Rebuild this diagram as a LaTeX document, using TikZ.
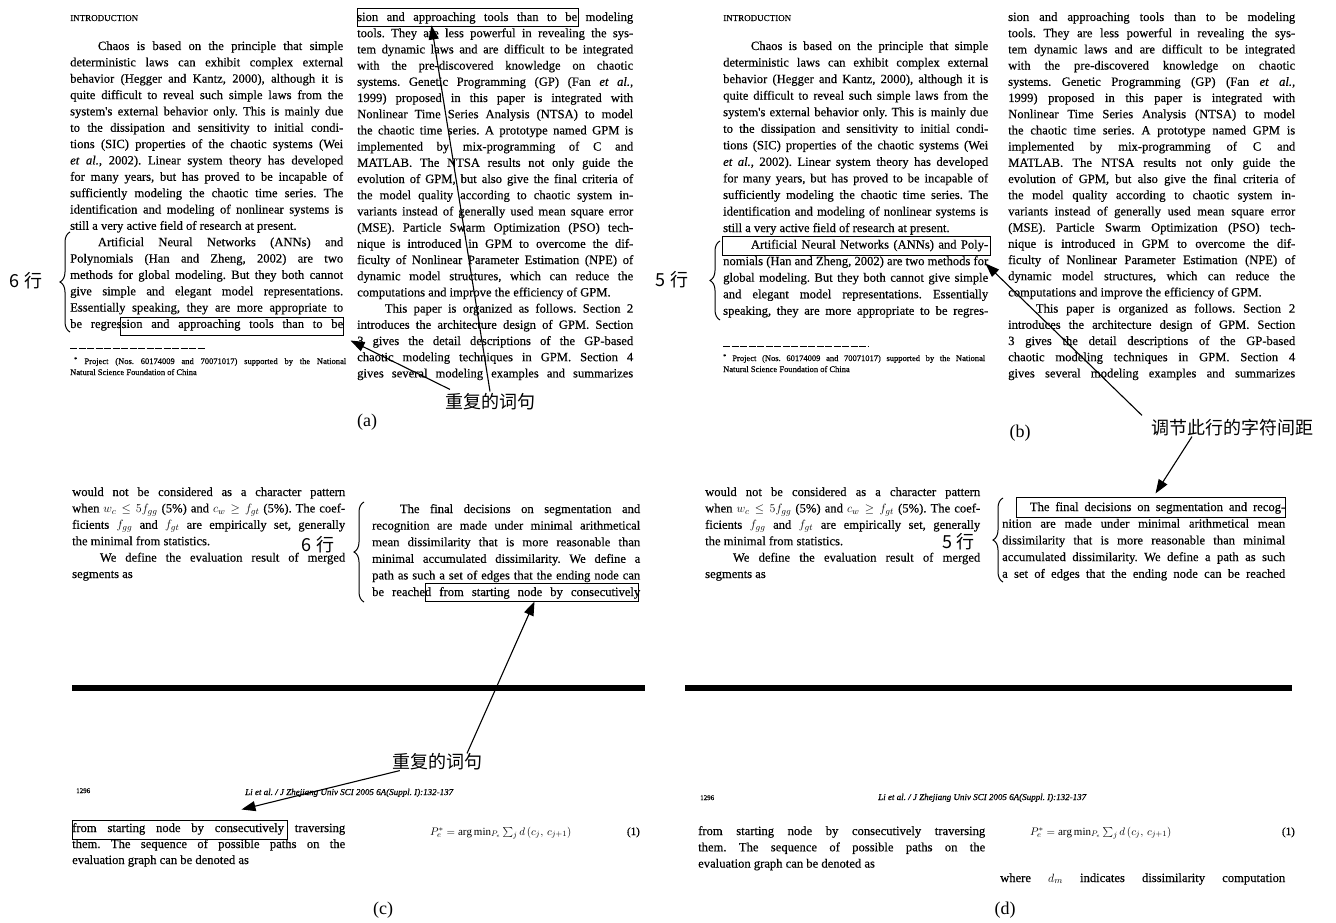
\documentclass[tikz,border=0pt]{standalone}
\usepackage{fontspec}
\setmainfont{Liberation Serif}
\newfontfamily\scanfont{Liberation Serif}[FakeBold=0.35]
\newfontfamily\cjk{Noto Sans CJK SC}
\usetikzlibrary{arrows.meta,decorations.pathreplacing,calc}
\newlength\colw
\newcommand\jline[1]{\makebox[\colw][s]{#1}}
\newcommand\lline[1]{#1}
\newcommand\txtblock[5]{\foreach \tx [count=\i] in {#5} {\node[tline] (#1\i) at (#2, {#3+3+#4*(\i-1)}) {\tx};}}
\frenchspacing
\begin{document}
\begin{tikzpicture}[x=1pt, y=-1pt,
  tline/.style={anchor=base west, inner sep=0pt, font=\scanfont\fontsize{12.6}{14}\selectfont},
  small/.style={anchor=base west, inner sep=0pt, font=\scanfont\fontsize{8.5}{10}\selectfont},
  hl/.style={draw, line width=1pt, inner sep=0pt},
  arr/.style={line width=1.1pt, -{Triangle[length=14pt,width=10pt]}},
  brc/.style={decorate, decoration={brace, amplitude=10pt}, line width=1pt},
  cjklbl/.style={font=\cjk\fontsize{18}{20}\selectfont, inner sep=0pt},
  panel/.style={font=\fontsize{18}{20}\selectfont, inner sep=0pt},
  bar/.style={line width=6.5pt}]
\useasboundingbox (0,0) rectangle (1336,923);
\fill[white] (0,0) rectangle (1336,923);

% ================= (a) =================
\node[small, font=\scanfont\fontsize{9}{10}\selectfont] (aIntro) at (70,21) {INTRODUCTION};
\setlength{\colw}{273pt}
\txtblock{aL}{70}{47}{16.35}{
{\jline{\hspace*{2.2em}Chaos is based on the principle that simple}},
{\jline{deterministic laws can exhibit complex external}},
{\jline{behavior (Hegger and Kantz, 2000), although it is}},
{\jline{quite difficult to reveal such simple laws from the}},
{\jline{system's external behavior only. This is mainly due}},
{\jline{to the dissipation and sensitivity to initial condi-}},
{\jline{tions (SIC) properties of the chaotic systems (Wei}},
{\jline{\textit{et al.}, 2002). Linear system theory has developed}},
{\jline{for many years, but has proved to be incapable of}},
{\jline{sufficiently modeling the chaotic time series. The}},
{\jline{identification and modeling of nonlinear systems is}},
{\lline{still a very active field of research at present.}},
{\jline{\hspace*{2.2em}Artificial Neural Networks (ANNs) and}},
{\jline{Polynomials (Han and Zheng, 2002) are two}},
{\jline{methods for global modeling. But they both cannot}},
{\jline{give simple and elegant model representations.}},
{\jline{Essentially speaking, they are more appropriate to}},
{\jline{be regression and approaching tools than to be}}}
\setlength{\colw}{276pt}
\txtblock{aR}{357}{18}{16.2}{
{\jline{sion and approaching tools than to be modeling}},
{\jline{tools. They are less powerful in revealing the sys-}},
{\jline{tem dynamic laws and are difficult to be integrated}},
{\jline{with the pre-discovered knowledge on chaotic}},
{\jline{systems. Genetic Programming (GP) (Fan \textit{et al.},}},
{\jline{1999) proposed in this paper is integrated with}},
{\jline{Nonlinear Time Series Analysis (NTSA) to model}},
{\jline{the chaotic time series. A prototype named GPM is}},
{\jline{implemented by mix-programming of C and}},
{\jline{MATLAB. The NTSA results not only guide the}},
{\jline{evolution of GPM, but also give the final criteria of}},
{\jline{the model quality according to chaotic system in-}},
{\jline{variants instead of generally used mean square error}},
{\jline{(MSE). Particle Swarm Optimization (PSO) tech-}},
{\jline{nique is introduced in GPM to overcome the dif-}},
{\jline{ficulty of Nonlinear Parameter Estimation (NPE) of}},
{\jline{dynamic model structures, which can reduce the}},
{\lline{computations and improve the efficiency of GPM.}},
{\jline{\hspace*{2.2em}This paper is organized as follows. Section 2}},
{\jline{introduces the architecture design of GPM. Section}},
{\jline{3 gives the detail descriptions of the GP-based}},
{\jline{chaotic modeling techniques in GPM. Section 4}},
{\jline{gives several modeling examples and summarizes}}}
\draw[line width=0.8pt, dash pattern=on 7pt off 1.5pt] (70,348) -- (206,348);
\setlength{\colw}{272pt}
\node[small] (aFn1) at (74,364) {\jline{\textsuperscript{*} Project (Nos. 60174009 and 70071017) supported by the National}};
\node[small] (aFn2) at (70,375) {Natural Science Foundation of China};
\node[hl, minimum width=221pt, minimum height=18pt] (boxA1) at (467.5,18) {};
\node[hl, minimum width=223pt, minimum height=18pt] (boxA2) at (231.5,326) {};
\draw[brc] (70,332) -- (70,232);
\node[cjklbl] (sixA) at (26,281) {6 行};
\node[cjklbl] (lblA) at (490,402) {重复的词句};
\draw[arr] ([yshift=2pt]lblA.north) -- ([xshift=75pt,yshift=2pt]boxA1.south west);
\draw[arr] ([xshift=-40pt,yshift=4pt]lblA.north) -- ([xshift=7pt,yshift=-5pt]boxA2.south east);
\node[panel] (pa) at (367,422) {(a)};

% ================= (b) =================
\node[small, font=\scanfont\fontsize{9}{10}\selectfont] (bIntro) at (723,21) {INTRODUCTION};
\setlength{\colw}{265pt}
\txtblock{bL}{723}{47}{16.55}{
{\jline{\hspace*{2.2em}Chaos is based on the principle that simple}},
{\jline{deterministic laws can exhibit complex external}},
{\jline{behavior (Hegger and Kantz, 2000), although it is}},
{\jline{quite difficult to reveal such simple laws from the}},
{\jline{system's external behavior only. This is mainly due}},
{\jline{to the dissipation and sensitivity to initial condi-}},
{\jline{tions (SIC) properties of the chaotic systems (Wei}},
{\jline{\textit{et al.}, 2002). Linear system theory has developed}},
{\jline{for many years, but has proved to be incapable of}},
{\jline{sufficiently modeling the chaotic time series. The}},
{\jline{identification and modeling of nonlinear systems is}},
{\lline{still a very active field of research at present.}},
{\jline{\hspace*{2.2em}Artificial Neural Networks (ANNs) and Poly-}},
{\jline{nomials (Han and Zheng, 2002) are two methods for}},
{\jline{global modeling. But they both cannot give simple}},
{\jline{and elegant model representations. Essentially}},
{\jline{speaking, they are more appropriate to be regres-}}}
\setlength{\colw}{287pt}
\txtblock{bR}{1008}{18}{16.2}{
{\jline{sion and approaching tools than to be modeling}},
{\jline{tools. They are less powerful in revealing the sys-}},
{\jline{tem dynamic laws and are difficult to be integrated}},
{\jline{with the pre-discovered knowledge on chaotic}},
{\jline{systems. Genetic Programming (GP) (Fan \textit{et al.},}},
{\jline{1999) proposed in this paper is integrated with}},
{\jline{Nonlinear Time Series Analysis (NTSA) to model}},
{\jline{the chaotic time series. A prototype named GPM is}},
{\jline{implemented by mix-programming of C and}},
{\jline{MATLAB. The NTSA results not only guide the}},
{\jline{evolution of GPM, but also give the final criteria of}},
{\jline{the model quality according to chaotic system in-}},
{\jline{variants instead of generally used mean square error}},
{\jline{(MSE). Particle Swarm Optimization (PSO) tech-}},
{\jline{nique is introduced in GPM to overcome the dif-}},
{\jline{ficulty of Nonlinear Parameter Estimation (NPE) of}},
{\jline{dynamic model structures, which can reduce the}},
{\lline{computations and improve the efficiency of GPM.}},
{\jline{\hspace*{2.2em}This paper is organized as follows. Section 2}},
{\jline{introduces the architecture design of GPM. Section}},
{\jline{3 gives the detail descriptions of the GP-based}},
{\jline{chaotic modeling techniques in GPM. Section 4}},
{\jline{gives several modeling examples and summarizes}}}
\draw[line width=0.8pt, dash pattern=on 7pt off 1.5pt] (723,346) -- (868,346);
\setlength{\colw}{262pt}
\node[small] (bFn1) at (723,361) {\jline{\textsuperscript{*} Project (Nos. 60174009 and 70071017) supported by the National}};
\node[small] (bFn2) at (723,372) {Natural Science Foundation of China};
\node[hl, minimum width=268pt, minimum height=19pt] (boxB) at (856,245.5) {};
\draw[brc] (720,320) -- (720,241);
\node[cjklbl] (fiveB) at (672,280) {5 行};
\node[cjklbl] (lblB) at (1232,428) {调节此行的字符间距};
\node[panel] (pb) at (1020,433) {(b)};

% ================= (c) =================
\setlength{\colw}{273pt}
\txtblock{cL}{72}{493}{16.4}{
{\jline{would not be considered as a character pattern}},
{\jline{when $w_c\le 5f_{gg}$ (5\%) and $c_w\ge f_{gt}$ (5\%). The coef-}},
{\jline{ficients $f_{gg}$ and $f_{gt}$ are empirically set, generally}},
{\lline{the minimal from statistics.}},
{\jline{\hspace*{2.2em}We define the evaluation result of merged}},
{\lline{segments as}}}
\setlength{\colw}{268pt}
\txtblock{cR}{372}{510}{16.6}{
{\jline{\hspace*{2.2em}The final decisions on segmentation and}},
{\jline{recognition are made under minimal arithmetical}},
{\jline{mean dissimilarity that is more reasonable than}},
{\jline{minimal accumulated dissimilarity. We define a}},
{\jline{path as such a set of edges that the ending node can}},
{\jline{be reached from starting node by consecutively}}}
\node[hl, minimum width=213pt, minimum height=18pt] (boxC1) at (531.5,592) {};
\draw[brc] (364,602) -- (364,502);
\node[cjklbl] (sixC) at (318,545) {6 行};
\draw[bar] (72,688) -- (645,688);
\node[small, font=\scanfont\fontsize{7}{8}\selectfont] (cHd1) at (76,793) {1296};
\node[small, font=\scanfont\itshape\fontsize{9}{10}\selectfont] (cHd2) at (245,795) {Li et al. / J Zhejiang Univ SCI 2005 6A(Suppl. I):132-137};
\setlength{\colw}{273pt}
\txtblock{cB}{72}{829}{16}{
{\jline{from starting node by consecutively traversing}},
{\jline{them. The sequence of possible paths on the}},
{\lline{evaluation graph can be denoted as}}}
\node[hl, minimum width=215pt, minimum height=19pt] (boxC2) at (179.5,829.5) {};
\node[small, font=\fontsize{11}{12}\selectfont] (cF) at (430,835) {$P_e^{*}=\arg\min_{P_e}\sum_{j} d\,(c_j,\,c_{j+1})$};
\node[small, anchor=base east, font=\scanfont\fontsize{11}{12}\selectfont] (cEq) at (640,835) {(1)};
\node[cjklbl] (lblC) at (437,762) {重复的词句};
\draw[arr] ([xshift=30pt]lblC.north) -- ([xshift=110pt]boxC1.south west);
\draw[arr] ([xshift=8pt]lblC.south west) -- ([xshift=170pt,yshift=10pt]boxC2.north west);
\node[panel] (pc) at (383,910) {(c)};

% ================= (d) =================
\setlength{\colw}{275pt}
\txtblock{dL}{705}{493}{16.4}{
{\jline{would not be considered as a character pattern}},
{\jline{when $w_c\le 5f_{gg}$ (5\%) and $c_w\ge f_{gt}$ (5\%). The coef-}},
{\jline{ficients $f_{gg}$ and $f_{gt}$ are empirically set, generally}},
{\lline{the minimal from statistics.}},
{\jline{\hspace*{2.2em}We define the evaluation result of merged}},
{\lline{segments as}}}
\setlength{\colw}{283pt}
\txtblock{dR}{1002}{508}{16.7}{
{\jline{\hspace*{2.2em}The final decisions on segmentation and recog-}},
{\jline{nition are made under minimal arithmetical mean}},
{\jline{dissimilarity that is more reasonable than minimal}},
{\jline{accumulated dissimilarity. We define a path as such}},
{\jline{a set of edges that the ending node can be reached}}}
\node[hl, minimum width=269pt, minimum height=20pt] (boxD) at (1150.5,507) {};
\draw[brc] (1003,582) -- (1003,498);
\node[cjklbl] (fiveD) at (958,542) {5 行};
\draw[arr] ([xshift=-90pt,yshift=4pt]lblB.north) -- ([xshift=-5pt,yshift=-8pt]boxB.south east);
\draw[arr] ([xshift=-40pt]lblB.south) -- ([xshift=140pt,yshift=3pt]boxD.north west);
\draw[bar] (685,688) -- (1292,688);
\node[small, font=\scanfont\fontsize{7}{8}\selectfont] (dHd1) at (700,800) {1296};
\node[small, font=\scanfont\itshape\fontsize{9}{10}\selectfont] (dHd2) at (878,800) {Li et al. / J Zhejiang Univ SCI 2005 6A(Suppl. I):132-137};
\setlength{\colw}{287pt}
\txtblock{dB}{698}{832}{16.3}{
{\jline{from starting node by consecutively traversing}},
{\jline{them. The sequence of possible paths on the}},
{\lline{evaluation graph can be denoted as}}}
\node[small, font=\fontsize{11}{12}\selectfont] (dF) at (1030,835) {$P_e^{*}=\arg\min_{P_e}\sum_{j} d\,(c_j,\,c_{j+1})$};
\node[small, anchor=base east, font=\scanfont\fontsize{11}{12}\selectfont] (dEq) at (1295,835) {(1)};
\setlength{\colw}{285pt}
\node[tline] (dWhere) at (1000,882) {\jline{where $d_m$ indicates dissimilarity computation}};
\node[panel] (pd) at (1005,910) {(d)};
\end{tikzpicture}
\end{document}
